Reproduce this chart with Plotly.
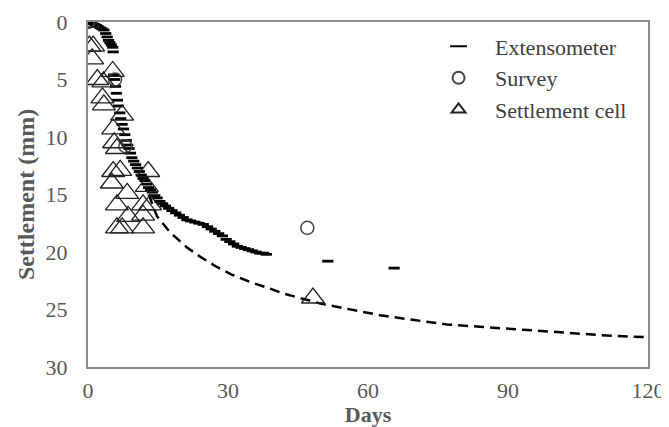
import plotly.graph_objects as go

# Extensometer readings (days, settlement mm)
ext_days = [0, 0.3, 0.6, 1.0, 1.4, 1.8, 2.2, 2.6, 3.0, 3.4, 3.8, 4.1, 4.4, 4.7, 5.0, 5.3, 5.4,
            5.5, 5.7, 5.9, 6.1, 6.3, 6.5, 6.8, 7.0, 7.3, 7.6, 7.9, 8.2, 8.5, 8.8, 9.1, 9.4, 9.8,
            10.2, 10.6, 11.0, 11.4, 11.8, 12.2, 12.6, 13.0, 13.4, 13.8, 14.3, 14.8, 15.4, 16.0,
            16.6, 17.3, 18.0, 18.8, 19.6, 20.4, 21.2, 22.0, 22.9, 23.8, 24.7, 25.6, 26.4, 27.2,
            28.0, 28.8, 29.6, 30.4, 31.2, 32.0, 32.8, 33.6, 34.4, 35.2, 36.0, 36.8, 37.6, 38.2,
            51.4, 65.6]
ext_mm = [0, 0.05, 0.1, 0.15, 0.2, 0.3, 0.4, 0.5, 0.6, 0.7, 1.0, 1.3, 1.6, 1.8, 2.0, 2.2, 2.6,
          4.6, 5.0, 5.6, 6.2, 6.8, 7.3, 7.9, 8.4, 8.9, 9.3, 9.8, 10.3, 10.7, 11.0, 11.4, 11.8, 12.1,
          12.4, 12.7, 13.0, 13.3, 13.6, 13.8, 14.1, 14.4, 14.6, 14.8, 15.1, 15.3, 15.6, 15.8,
          16.0, 16.2, 16.4, 16.6, 16.8, 17.0, 17.2, 17.3, 17.4, 17.5, 17.6, 17.8, 18.0, 18.2,
          18.4, 18.6, 18.9, 19.1, 19.3, 19.5, 19.6, 19.7, 19.8, 19.9, 20.0, 20.1, 20.1, 20.2,
          20.8, 21.4]

# Survey readings
survey_days = [0, 5.8, 8.0, 47.0]
survey_mm = [0, 5.0, 10.8, 17.9]

# Settlement cell readings
cell_days = [0, 0.3, 1.1, 0.9, 5.3, 2.0, 3.3, 3.1, 3.4, 7.3, 5.4, 5.6, 6.2, 5.4, 6.9, 12.9,
             5.1, 12.6, 8.4, 6.2, 11.8, 13.3, 8.6, 11.8, 6.2, 7.3, 11.8, 48.2]
cell_mm = [0, 2.1, 2.1, 3.2, 4.3, 5.0, 5.2, 6.6, 7.2, 8.1, 9.3, 10.5, 11.0, 13.0, 12.9, 13.0,
           14.0, 14.3, 14.9, 15.9, 15.9, 15.9, 16.9, 16.8, 17.9, 17.9, 17.9, 24.0]

# Predicted curve (dashed)
fit_days = [13.0, 14.8, 17.6, 21.2, 24.0, 27.6, 31.0, 34.7, 38.4, 41.8, 45.4, 50.0, 55.0,
            62.6, 69.6, 76.9, 84.0, 91.0, 98.3, 105.4, 112.5, 120.0]
fit_mm = [15.0, 16.9, 18.3, 19.6, 20.4, 21.3, 22.0, 22.6, 23.1, 23.6, 24.0, 24.5, 24.9,
          25.5, 25.9, 26.3, 26.5, 26.7, 26.9, 27.1, 27.3, 27.4]

x_ticks = [0, 30, 60, 90, 120]
y_ticks = [0, 5, 10, 15, 20, 25, 30]

FONT = "Liberation Serif, Times New Roman, serif"
SP = "\u00a0\u00a0\u00a0"

fig = go.Figure()
fig.add_trace(go.Scatter(x=fit_days, y=fit_mm, mode="lines",
                         line=dict(color="black", width=2.5, dash="10px,6px"),
                         showlegend=False, hoverinfo="skip"))
fig.add_trace(go.Scatter(x=ext_days, y=ext_mm, mode="markers", name=SP + "Extensometer",
                         marker=dict(symbol="line-ew", size=8,
                                     line=dict(color="black", width=2.8))))
fig.add_trace(go.Scatter(x=survey_days, y=survey_mm, mode="markers", name=SP + "Survey",
                         marker=dict(symbol="circle-open", size=13, color="#444444",
                                     line=dict(color="#444444", width=1.5))))
fig.add_trace(go.Scatter(x=cell_days, y=cell_mm, mode="markers", name=SP + "Settlement cell",
                         marker=dict(symbol="triangle-up-open", size=20, color="#222222",
                                     line=dict(color="#222222", width=1.3))))

axis_common = dict(showline=True, linecolor="#8c8c8c", linewidth=2, mirror=True,
                   showgrid=False, zeroline=False, ticks="", automargin=False,
                   tickfont=dict(family=FONT, size=22, color="#595959"))

fig.update_layout(
    width=661, height=419,
    margin=dict(l=80, r=21, t=14, b=60),
    paper_bgcolor="white", plot_bgcolor="white",
    font=dict(family=FONT, color="#404040"),
    xaxis=dict(range=[0, 120], tickvals=x_ticks, ticklabelstandoff=3,
               title=dict(text="<b>Days</b>", font=dict(family=FONT, size=22, color="#595959"),
                          standoff=4),
               **axis_common),
    yaxis=dict(range=[30, 0], tickvals=y_ticks, ticklabelstandoff=14,
               title=dict(text="<b>Settlement (mm)</b>",
                          font=dict(family=FONT, size=24, color="#595959"), standoff=4),
               **axis_common),
    legend=dict(x=0.626, y=0.99, xanchor="left", yanchor="top",
                font=dict(family=FONT, size=22, color="#404040"),
                bgcolor="rgba(0,0,0,0)", itemsizing="constant"),
)

fig.write_html("out.html")
